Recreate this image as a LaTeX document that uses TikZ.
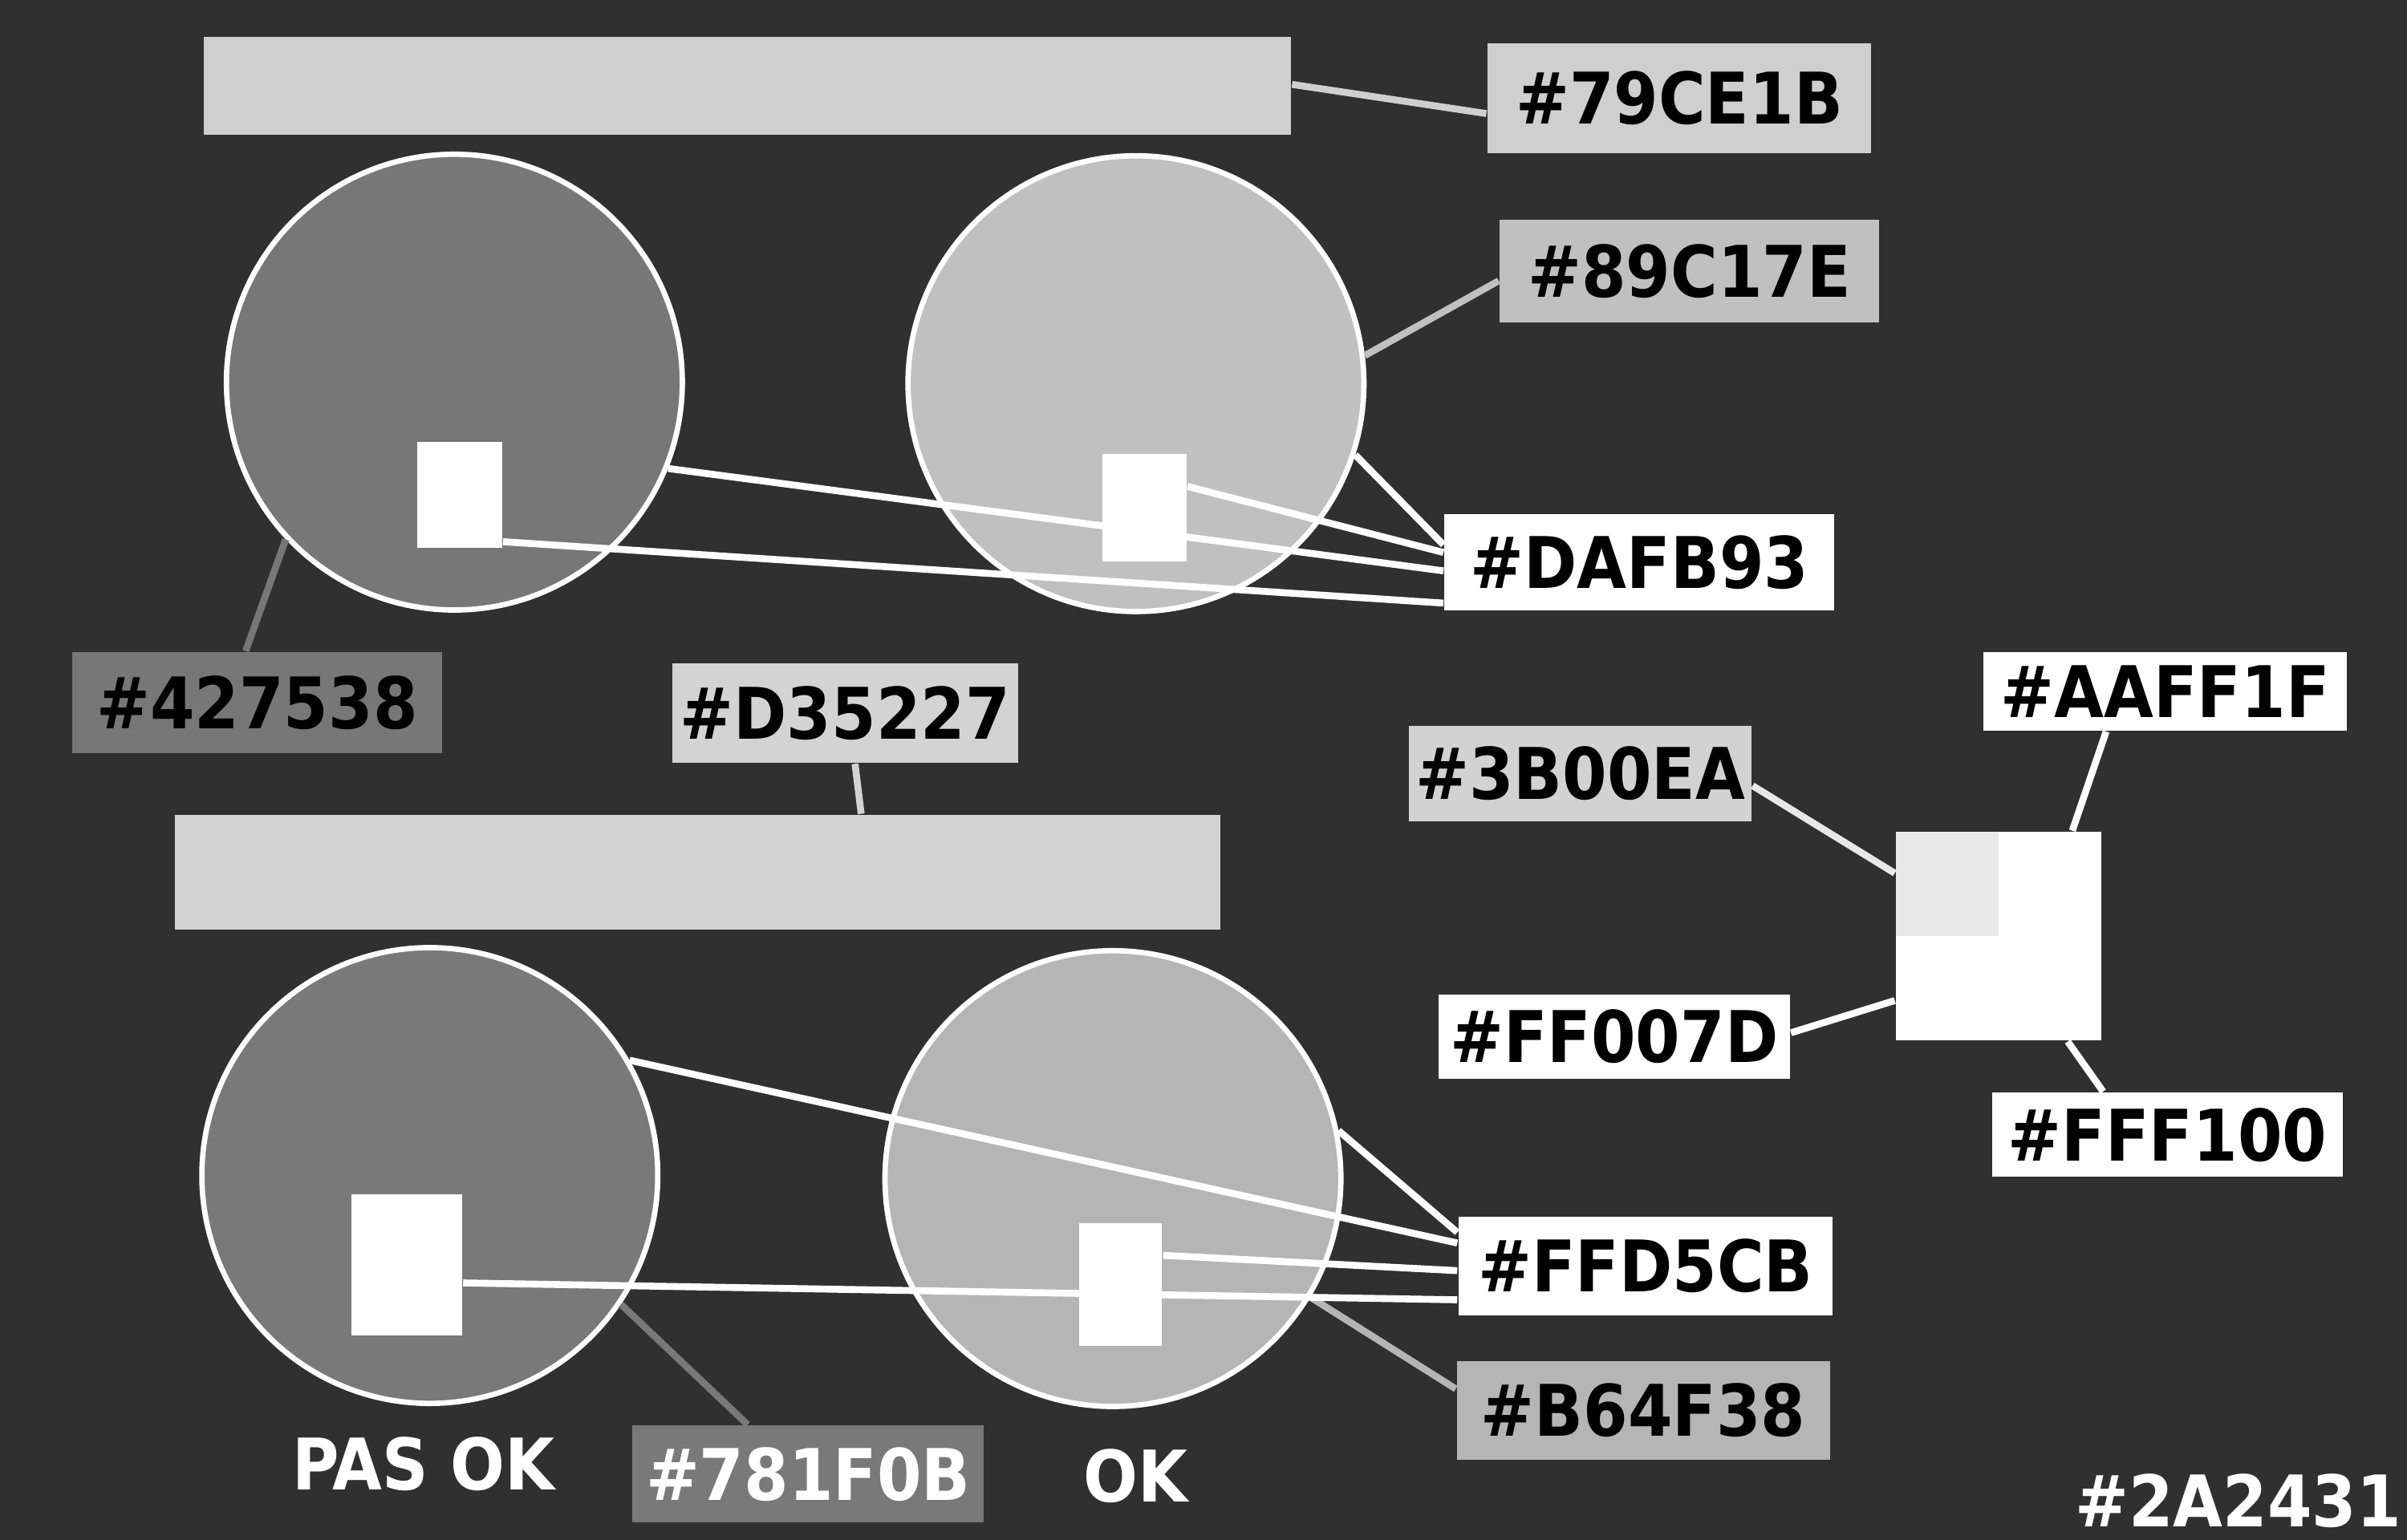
\documentclass[tikz,border=0pt]{standalone}
\usepackage{fontspec}
\newfontfamily\tagfont{DejaVu Sans Condensed Bold}
\usetikzlibrary{calc}

\definecolor{bgdark}{HTML}{303030}
\definecolor{barA}{HTML}{CFCFCF}
\definecolor{barB}{HTML}{D3D3D3}
\definecolor{discA}{HTML}{777777}
\definecolor{discB}{HTML}{C0C0C0}
\definecolor{discC}{HTML}{797979}
\definecolor{discD}{HTML}{B5B5B5}
\definecolor{quadA}{HTML}{E8E8E8}
\definecolor{tagC}{HTML}{D2D2D2}

\tikzset{
    tag/.style={font=\tagfont\fontsize{13.2pt}{15pt}\selectfont, inner sep=0pt, text=black},
    disc/.style={circle, draw=white, line width=0.35mm, minimum size=29.7mm, inner sep=0pt},
    pad/.style={fill=white, inner sep=0pt},
    link/.style={line width=0.45mm}
}

\begin{document}
\begin{tikzpicture}[x=0.1mm, y=-0.1mm]
    % Background
    \fill[bgdark] (0,0) rectangle (1568,1003.5);
    % Bars
    \node[fill=barA, inner sep=0pt, minimum width=70.8mm, minimum height=6.4mm] (barA) at (487,56)      {};
    \node[fill=barB, inner sep=0pt, minimum width=68.1mm, minimum height=7.5mm] (barB) at (454.5,568.5) {};
    % Discs
    \node[disc, fill=discA] (c1) at (296,249) {};
    \node[disc, fill=discB] (c2) at (740,250) {};
    \node[disc, fill=discC] (c3) at (280,766) {};
    \node[disc, fill=discD] (c4) at (725,768) {};
    % Tags
    \node[tag, fill=barA,  minimum width=25mm,   minimum height=7.2mm] (t79)  at (1094,64)      {\#79CE1B};
    \node[tag, fill=discB, minimum width=24.7mm, minimum height=6.7mm] (t89)  at (1100.5,176.5) {\#89C17E};
    \node[tag, fill=white, minimum width=25.4mm, minimum height=6.3mm] (tDA)  at (1068,366.5)   {\#DAFB93};
    \node[tag, fill=discA, minimum width=24.1mm, minimum height=6.6mm] (t42)  at (167.5,458)    {\#427538};
    \node[tag, fill=barB,  minimum width=22.5mm, minimum height=6.5mm] (tD3)  at (550.5,464.5)  {\#D35227};
    \node[tag, fill=tagC,  minimum width=22.3mm, minimum height=6.2mm] (t3B)  at (1029.5,504)   {\#3B00EA};
    \node[tag, fill=white, minimum width=23.7mm, minimum height=5.1mm] (tAA)  at (1410.5,450.5) {\#AAFF1F};
    \node[tag, fill=white, minimum width=22.9mm, minimum height=5.5mm] (tFF0) at (1051.5,675.5) {\#FF007D};
    \node[tag, fill=white, minimum width=22.8mm, minimum height=5.5mm] (tFFF) at (1412,739.5)   {\#FFF100};
    \node[tag, fill=white, minimum width=24.4mm, minimum height=6.4mm] (tFFD) at (1072,825)     {\#FFD5CB};
    \node[tag, fill=discD, minimum width=24.3mm, minimum height=6.4mm] (tB6)  at (1070.5,919)   {\#B64F38};
    \node[tag, fill=discC, minimum width=22.9mm, minimum height=6.3mm, text=white] (t78) at (526.5,960.5) {\#781F0B};
    % Links, top half
    \draw[link, barA]  ($(barA.east)+(0,-1)$)  -- ($(t79.west)+(0,10)$);
    \draw[link, discB] (c2.7)                  -- ($(t89.west)+(0,6.5)$);
    \draw[link, white] (c2.-18)                -- ($(tDA.west)+(0,-11.5)$);
    \draw[link, white] (c1.-22)                -- ($(tDA.west)+(0,5.5)$);
    \draw[link, discA] (c1.-137)               -- ($(t42.north)+(-7.5,0)$);
    \draw[link, barB]  ($(tD3.south)+(6.5,0)$) -- ($(barB.north)+(106.5,0)$);
    % Links, bottom half
    \draw[link, white] (c3.30)                 -- ($(tFFD.west)+(0,-15)$);
    \draw[link, white] (c4.12)                 -- ($(tFFD.west)+(0,-22)$);
    \draw[link, discD] (c4.-31)                -- ($(tB6.west)+(0,-14)$);
    \draw[link, discC] (c3.-34)                -- ($(t78.north)+(-39.5,0)$);
    % Pads
    \node[pad, minimum width=5.5mm, minimum height=6.9mm] (r1) at (299.5,322.5) {};
    \node[pad, minimum width=5.5mm, minimum height=7mm]   (r2) at (745.5,331)   {};
    \node[pad, minimum width=7.2mm, minimum height=9.2mm] (r3) at (265,824)     {};
    \node[pad, minimum width=5.4mm, minimum height=8mm]   (r4) at (730,837)     {};
    \draw[link, white] ($(r2.east)+(0,-14)$)   -- ($(tDA.west)+(0,-6.5)$);
    \draw[link, white] ($(r1.east)+(0,30.5)$)  -- ($(tDA.west)+(0,26.5)$);
    \draw[link, white] ($(r4.east)+(0,-19)$)   -- ($(tFFD.west)+(0,3)$);
    \draw[link, white] ($(r3.east)+(0,12)$)    -- ($(tFFD.west)+(0,22)$);
    % Quad block
    \node[pad, fill=quadA, minimum width=6.7mm, minimum height=6.8mm] (q1) at (1268.5,576) {};
    \node[pad, minimum width=6.7mm, minimum height=6.8mm] (q2) at (1335.5,576) {};
    \node[pad, minimum width=6.7mm, minimum height=6.8mm] (q3) at (1268.5,644) {};
    \node[pad, minimum width=6.7mm, minimum height=6.8mm] (q4) at (1335.5,644) {};
    \draw[link, quadA] ($(t3B.east)+(0,8)$)      -- ($(q1.west)+(0,-7)$);
    \draw[link, white] ($(tAA.south)+(-38.5,0)$) -- ($(q2.north)+(14.5,0)$);
    \draw[link, white] ($(tFF0.east)+(0,-2.5)$)  -- ($(q3.west)+(0,8)$);
    \draw[link, white] ($(q4.south)+(11.5,0)$)   -- ($(tFFF.north)+(-42,0)$);
    % Captions
    \node[tag, text=white] (pasok) at (276,954)  {PAS OK};
    \node[tag, text=white] (ok)    at (740,962)  {OK};
    \node[tag, text=white] (bgtag) at (1458,978) {\#2A2431};
\end{tikzpicture}
\end{document}
